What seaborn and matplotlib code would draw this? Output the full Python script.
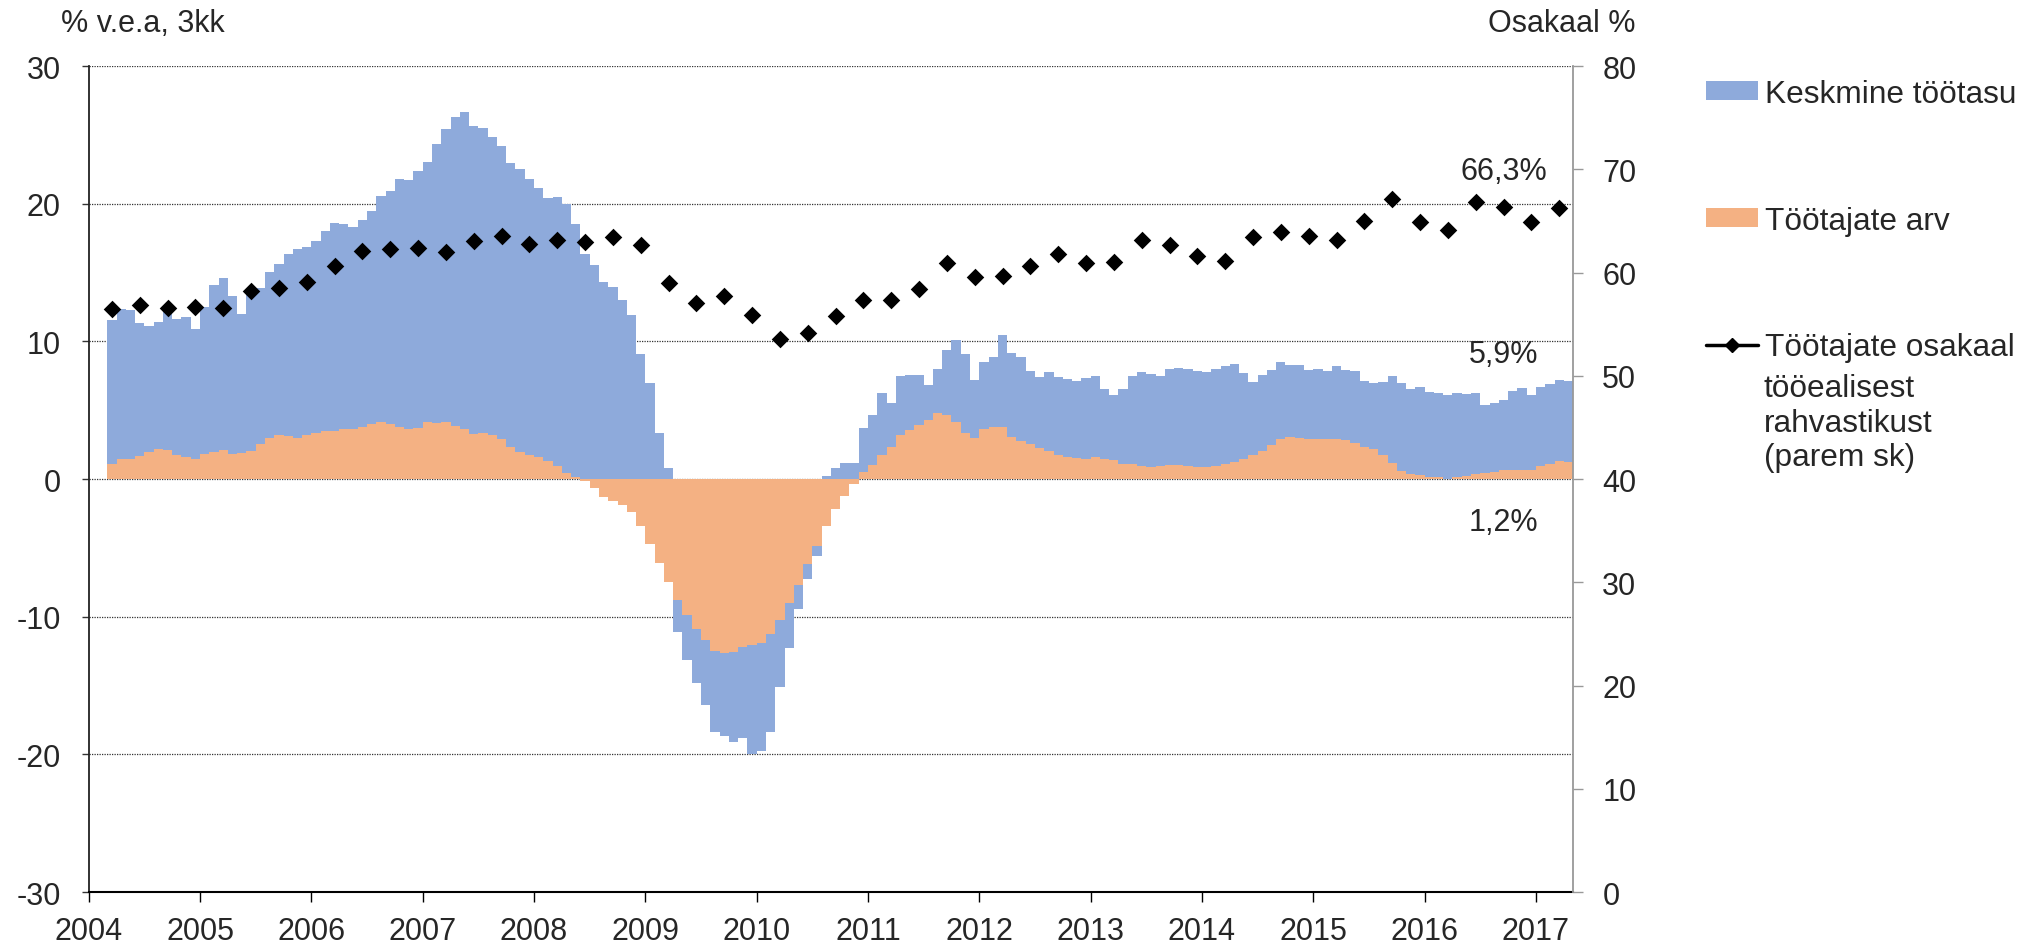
import matplotlib
matplotlib.use("Agg")
import matplotlib.pyplot as plt
import numpy as np
import pandas as pd
import seaborn as sns
from matplotlib.patches import Patch
from matplotlib.lines import Line2D

# monthly contributions to wage bill growth, % y/y (3-month), Mar 2004 .. Apr 2017
start_month = "2004-03"
employees = [
    1.07, 1.45, 1.45, 1.65, 1.96, 2.16, 2.10, 1.75, 1.58, 1.43,
    1.84, 1.94, 2.13, 1.79, 1.87, 2.06, 2.55, 2.96, 3.18, 3.10,
    3.00, 3.20, 3.32, 3.52, 3.52, 3.61, 3.61, 3.78, 4.00, 4.17,
    4.02, 3.78, 3.66, 3.73, 4.12, 4.10, 4.12, 3.83, 3.61, 3.25,
    3.35, 3.22, 2.93, 2.30, 1.99, 1.72, 1.58, 1.28, 0.92, 0.46,
    0.17, -0.15, -0.63, -1.28, -1.62, -1.90, -2.42, -3.39, -4.75, -6.13,
    -7.50, -8.79, -9.88, -10.90, -11.67, -12.47, -12.60, -12.57, -12.20, -12.06,
    -11.89, -11.28, -10.27, -9.00, -7.68, -6.20, -4.84, -3.39, -2.18, -1.26,
    -0.36, 0.48, 0.99, 1.73, 2.31, 3.23, 3.59, 3.90, 4.31, 4.82,
    4.65, 4.17, 3.35, 3.01, 3.66, 3.78, 3.81, 3.04, 2.75, 2.53,
    2.24, 2.02, 1.78, 1.59, 1.52, 1.49, 1.59, 1.45, 1.37, 1.13,
    1.08, 0.92, 0.87, 0.92, 0.99, 1.01, 0.94, 0.90, 0.90, 0.93,
    1.06, 1.21, 1.47, 1.74, 2.03, 2.51, 2.90, 3.04, 2.95, 2.92,
    2.92, 2.92, 2.90, 2.83, 2.61, 2.34, 2.17, 1.74, 1.14, 0.56,
    0.36, 0.31, 0.17, 0.12, 0.02, 0.12, 0.22, 0.34, 0.41, 0.51,
    0.65, 0.65, 0.65, 0.65, 0.97, 1.11, 1.33, 1.21,
]
avg_wage = [
    10.49, 10.94, 10.82, 9.67, 9.14, 9.23, 10.00, 9.85, 10.18, 9.50,
    10.69, 12.16, 12.44, 11.54, 10.13, 11.78, 11.35, 12.07, 12.42, 13.26,
    13.70, 13.67, 13.96, 14.52, 15.08, 14.94, 14.67, 15.01, 15.47, 16.36,
    16.93, 18.02, 18.04, 18.65, 18.91, 20.24, 21.28, 22.47, 23.09, 22.37,
    22.13, 21.60, 21.29, 20.68, 20.51, 20.05, 19.54, 19.11, 19.54, 19.54,
    18.33, 16.36, 15.54, 14.35, 13.94, 13.02, 11.90, 9.09, 7.00, 3.35,
    0.82, -2.35, -3.27, -3.92, -4.75, -5.93, -6.10, -6.56, -6.64, -7.92,
    -7.84, -7.07, -4.86, -3.25, -1.76, -1.09, -0.73, 0.19, 0.77, 1.20,
    1.20, 3.25, 3.64, 4.54, 3.23, 4.24, 3.98, 3.67, 2.49, 3.18,
    4.75, 5.95, 5.71, 4.15, 4.84, 5.09, 6.65, 6.12, 6.12, 5.35,
    5.18, 5.76, 5.67, 5.69, 5.61, 5.88, 5.88, 5.10, 4.77, 5.42,
    6.44, 6.84, 6.79, 6.60, 7.03, 7.09, 7.04, 6.96, 6.87, 7.03,
    7.13, 7.17, 6.21, 5.31, 5.51, 5.39, 5.60, 5.25, 5.31, 5.00,
    5.05, 4.91, 5.29, 5.09, 5.24, 4.79, 4.79, 5.34, 6.35, 6.44,
    6.21, 6.36, 6.18, 6.16, 6.07, 6.11, 5.94, 5.89, 4.98, 5.00,
    5.10, 5.75, 5.97, 5.44, 5.70, 5.77, 5.84, 5.92,
]

# quarterly employment rate of working-age population, % (right axis)
employment_rate = [
    56.5, 56.9, 56.6, 56.7, 56.6, 58.2, 58.5, 59.1, 60.6, 62.1,
    62.3, 62.4, 62.0, 63.1, 63.5, 62.8, 63.2, 63.0, 63.4, 62.7,
    59.0, 57.1, 57.7, 55.9, 53.6, 54.1, 55.8, 57.3, 57.3, 58.4,
    60.9, 59.6, 59.7, 60.6, 61.8, 60.9, 61.0, 63.2, 62.7, 61.6,
    61.1, 63.4, 63.9, 63.5, 63.2, 65.0, 67.1, 64.9, 64.1, 66.8,
    66.4, 64.9, 66.3,
]
year_ticks = list(range(2004, 2018))
left_ticks = [-30, -20, -10, 0, 10, 20, 30]
right_ticks = [0, 10, 20, 30, 40, 50, 60, 70, 80]

blue = "#8eaadb"
orange = "#f4b183"
fs = 22

sns.set_style("white")
plt.rcParams["font.family"] = ["Liberation Sans", "DejaVu Sans"]
plt.rcParams["axes.unicode_minus"] = False

months = pd.date_range(start_month, periods=len(employees), freq="MS")
x_month = months.year + (months.month - 0.5) / 12
quarters = pd.date_range(start_month, periods=len(employment_rate), freq="3MS")
x_quarter = quarters.year + (quarters.month - 0.5) / 12

emp = np.array(employees)
wage = np.array(avg_wage)
# Excel-style stacking: positives pile up from zero, negatives pile down
wage_bottom = np.where(np.sign(emp) == np.sign(wage), emp, 0.0)

fig = plt.figure(figsize=(20.34, 9.45), dpi=100)
ax = fig.add_axes([0.0436, 0.055, 0.7298, 0.874])

ax.bar(x_month, emp, width=1 / 12, color=orange, linewidth=0, zorder=2)
ax.bar(x_month, wage, bottom=wage_bottom, width=1 / 12, color=blue, linewidth=0, zorder=2)

ax.set_xlim(2004, 2004 + (len(employees) + 2) / 12)
ax.set_ylim(-30, 30)
ax.set_yticks(left_ticks)
ax.set_yticklabels([str(v) for v in left_ticks])
ax.set_xticks(year_ticks)
ax.set_xticklabels([str(v) for v in year_ticks])
ax.set_axisbelow(True)
ax.yaxis.grid(True, linestyle=(0, (1, 1)), color="#333333", linewidth=0.9)
ax.xaxis.grid(False)
ax.tick_params(axis="y", labelsize=fs, length=5, width=1, pad=15, direction="out", color="#333333", left=True)
ax.tick_params(axis="x", labelsize=fs, length=7, width=1, pad=10, direction="out", color="black", bottom=True)
for side in ["top", "right"]:
    ax.spines[side].set_visible(False)
ax.spines["left"].set_color("#222222")
ax.spines["left"].set_linewidth(1.3)
ax.spines["bottom"].set_color("black")
ax.spines["bottom"].set_linewidth(1.5)

ax2 = ax.twinx()
sns.scatterplot(x=x_quarter, y=employment_rate, ax=ax2, marker="D", color="black",
                s=80, linewidth=0, legend=False, zorder=5)
ax2.set_ylim(0, 80)
ax2.set_yticks(right_ticks)
ax2.set_yticklabels([str(v) for v in right_ticks])
ax2.tick_params(axis="y", labelsize=fs, length=7, width=1, pad=14, direction="out", color="#999999", right=True)
for side in ["top", "left", "bottom"]:
    ax2.spines[side].set_visible(False)
ax2.spines["right"].set_color("#999999")
ax2.spines["right"].set_linewidth(1.3)
ax2.grid(False)

ax.text(2016.71, 22.4, "66,3%", fontsize=fs, ha="center", va="center")
ax.text(2016.71, 9.1, "5,9%", fontsize=fs, ha="center", va="center")
ax.text(2016.71, -3.1, "1,2%", fontsize=fs, ha="center", va="center")

fig.text(61 / 2034, 1 - 24 / 945, "% v.e.a, 3kk", fontsize=fs, ha="left", va="center")
fig.text(1488 / 2034, 1 - 24 / 945, "Osakaal %", fontsize=fs, ha="left", va="center")

handles = [
    Patch(facecolor=blue, edgecolor="none"),
    Patch(facecolor=orange, edgecolor="none"),
    Line2D([], [], color="black", linewidth=2.5, marker="D", markersize=7),
]
labels = ["Keskmine töötasu", "Töötajate arv", "Töötajate osakaal"]
fig.legend(handles, labels, loc="upper left", bbox_to_anchor=(1706 / 2034, 1 - 80 / 945),
           frameon=False, fontsize=22.8, handlelength=1.65, handleheight=0.55,
           handletextpad=0.2, labelspacing=3.05, borderpad=0, borderaxespad=0)
fig.text(1764 / 2034, 1 - 374 / 945, "tööealisest\nrahvastikust\n(parem sk)",
         fontsize=22.8, ha="left", va="top", linespacing=1.2)

fig.savefig("out.png", dpi=100)
